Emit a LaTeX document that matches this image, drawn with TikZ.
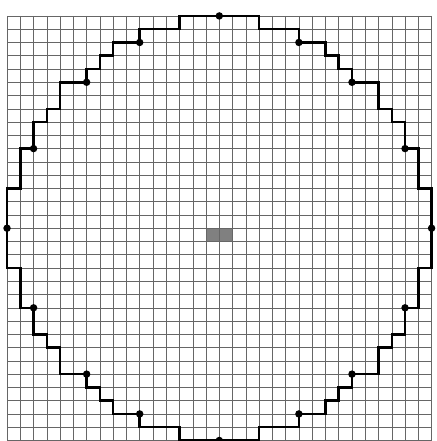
\documentclass[tikz,border=0pt]{standalone}
\usepackage{tikz}
\tikzset{
  gridline/.style  = {draw=black!60, line width=0.55pt},
  stairline/.style = {draw=black, line width=2.7pt, line join=miter},
  celldot/.style   = {fill=black},
  midcell/.style   = {fill=black!50, draw=none},
}

\begin{document}
\begin{tikzpicture}[x=0.5cm, y=-0.5cm]
  \useasboundingbox (-0.53,-1.2) rectangle (32.4,32.04);

  % centre cell
  \fill[midcell] (15,16) rectangle (17,17);

  % square grid
  \foreach \i in {0,...,32} {
    \draw[gridline] (\i,0) -- (\i,32.5);
    \draw[gridline] (0,\i) -- (32,\i);
  }

  % stepped boundary
  \draw[stairline]
    (0,16) -- (0,13) -- (1,13) -- (1,10) -- (2,10) -- (2,8) -- (3,8)
    -- (3,7) -- (4,7) -- (4,5) -- (6,5) -- (6,4) -- (7,4) -- (7,3)
    -- (8,3) -- (8,2) -- (10,2) -- (10,1) -- (13,1) -- (13,0) -- (16,0)
    -- (19,0) -- (19,1) -- (22,1) -- (22,2) -- (24,2) -- (24,3) -- (25,3)
    -- (25,4) -- (26,4) -- (26,5) -- (28,5) -- (28,7) -- (29,7) -- (29,8)
    -- (30,8) -- (30,10) -- (31,10) -- (31,13) -- (32,13) -- (32,16)
    -- (32,19) -- (31,19) -- (31,22) -- (30,22) -- (30,24) -- (29,24)
    -- (29,25) -- (28,25) -- (28,27) -- (26,27) -- (26,28) -- (25,28)
    -- (25,29) -- (24,29) -- (24,30) -- (22,30) -- (22,31) -- (19,31)
    -- (19,32) -- (16,32) -- (13,32) -- (13,31) -- (10,31) -- (10,30)
    -- (8,30) -- (8,29) -- (7,29) -- (7,28) -- (6,28) -- (6,27) -- (4,27)
    -- (4,25) -- (3,25) -- (3,24) -- (2,24) -- (2,22) -- (1,22) -- (1,19)
    -- (0,19) -- cycle;

  % marked corners
  \foreach \c/\r in {16/0, 10/2, 22/2, 6/5, 26/5, 2/10, 30/10, 0/16,
                     32/16, 2/22, 30/22, 6/27, 26/27, 10/30, 22/30, 16/32}
    \fill[celldot] (\c,\r) circle (4pt);
\end{tikzpicture}
\end{document}
